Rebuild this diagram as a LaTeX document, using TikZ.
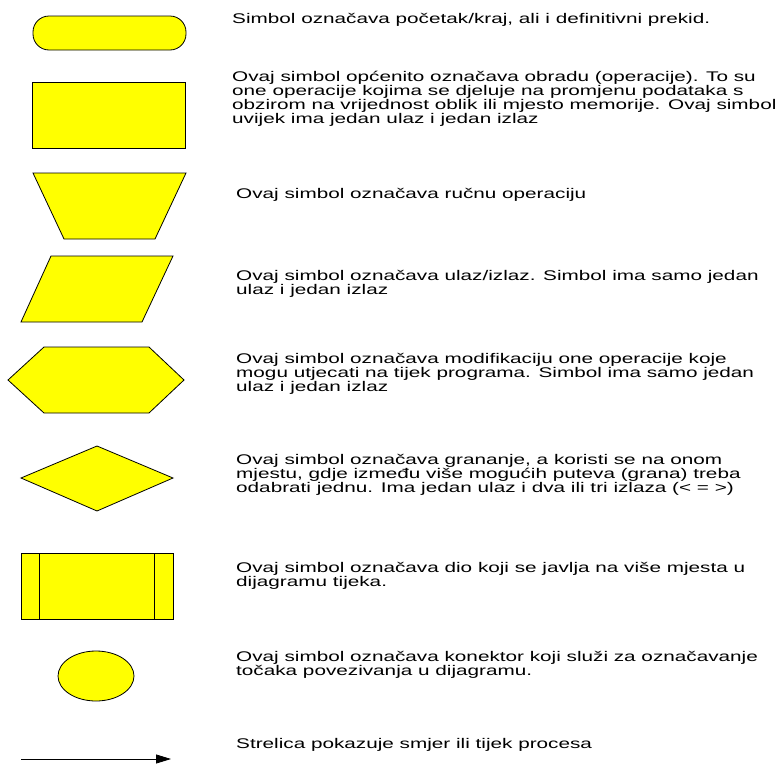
\documentclass[tikz,border=0pt]{standalone}
\usepackage{fontspec}
\setmainfont{Liberation Sans}[FakeStretch=1.48]
\usetikzlibrary{arrows.meta}
\definecolor{symfill}{RGB}{255,255,0}
\begin{document}
\begin{tikzpicture}[x=1pt,y=-1pt,
  sym/.style={draw=black,fill=symfill,line width=0.8pt,line join=miter},
  desc/.style={anchor=base west,inner sep=0pt,font=\fontsize{14}{13.9}\selectfont},
  flowarrow/.style={line width=0.8pt,-{Triangle[length=15pt,width=9pt]}}]
\useasboundingbox (0,0) rectangle (779,763);
% 1 terminal
\draw[sym,rounded corners=16pt] (33,16) rectangle (186,50);
\node[desc] (t1) at (232,23.5) {\parbox[t]{560pt}{Simbol označava početak/kraj, ali i definitivni prekid.}};
% 2 process
\draw[sym] (32,82) rectangle (185,148);
\node[desc] (t2) at (232,81.5) {\parbox[t]{560pt}{\raggedright Ovaj simbol općenito označava obradu (operacije). To su\\one operacije kojima se djeluje na promjenu podataka s\\obzirom na vrijednost oblik ili mjesto memorije. Ovaj simbol\\uvijek ima jedan ulaz i jedan izlaz}};
% 3 manual operation
\draw[sym] (33,173) -- (186,173) -- (155,239) -- (64,239) -- cycle;
\node[desc] (t3) at (236,198.5) {\parbox[t]{560pt}{Ovaj simbol označava ručnu operaciju}};
% 4 input/output
\draw[sym] (51,256) -- (173,256) -- (142,322) -- (21,322) -- cycle;
\node[desc] (t4) at (236,280.5) {\parbox[t]{560pt}{\raggedright Ovaj simbol označava ulaz/izlaz. Simbol ima samo jedan\\ulaz i jedan izlaz}};
% 5 preparation
\draw[sym] (8,380) -- (44,347) -- (149,347) -- (184,380) -- (149,413) -- (44,413) -- cycle;
\node[desc] (t5) at (236,363.5) {\parbox[t]{560pt}{\raggedright Ovaj simbol označava modifikaciju one operacije koje\\mogu utjecati na tijek programa. Simbol ima samo jedan\\ulaz i jedan izlaz}};
% 6 decision
\draw[sym] (97,446) -- (173,478) -- (97,511) -- (21,478) -- cycle;
\node[desc] (t6) at (236,464.5) {\parbox[t]{560pt}{\raggedright Ovaj simbol označava grananje, a koristi se na onom\\mjestu, gdje između više mogućih puteva (grana) treba\\odabrati jednu. Ima jedan ulaz i dva ili tri izlaza (< = >)}};
% 7 predefined process
\draw[sym] (21,553) rectangle (173,619);
\draw[sym] (39,553) -- (39,619);
\draw[sym] (154,553) -- (154,619);
\node[desc] (t7) at (236,572.5) {\parbox[t]{560pt}{\raggedright Ovaj simbol označava dio koji se javlja na više mjesta u\\dijagramu tijeka.}};
% 8 connector
\draw[sym] (96,676) ellipse [x radius=38, y radius=25];
\node[desc] (t8) at (236,661.5) {\parbox[t]{560pt}{\raggedright Ovaj simbol označava konektor koji služi za označavanje\\točaka povezivanja u dijagramu.}};
% 9 arrow
\coordinate (a0) at (21,759);
\coordinate (a1) at (171,759);
\draw[flowarrow] (a0) -- (a1);
\node[desc] (t9) at (236,748.5) {\parbox[t]{560pt}{Strelica pokazuje smjer ili tijek procesa}};
\end{tikzpicture}
\end{document}
